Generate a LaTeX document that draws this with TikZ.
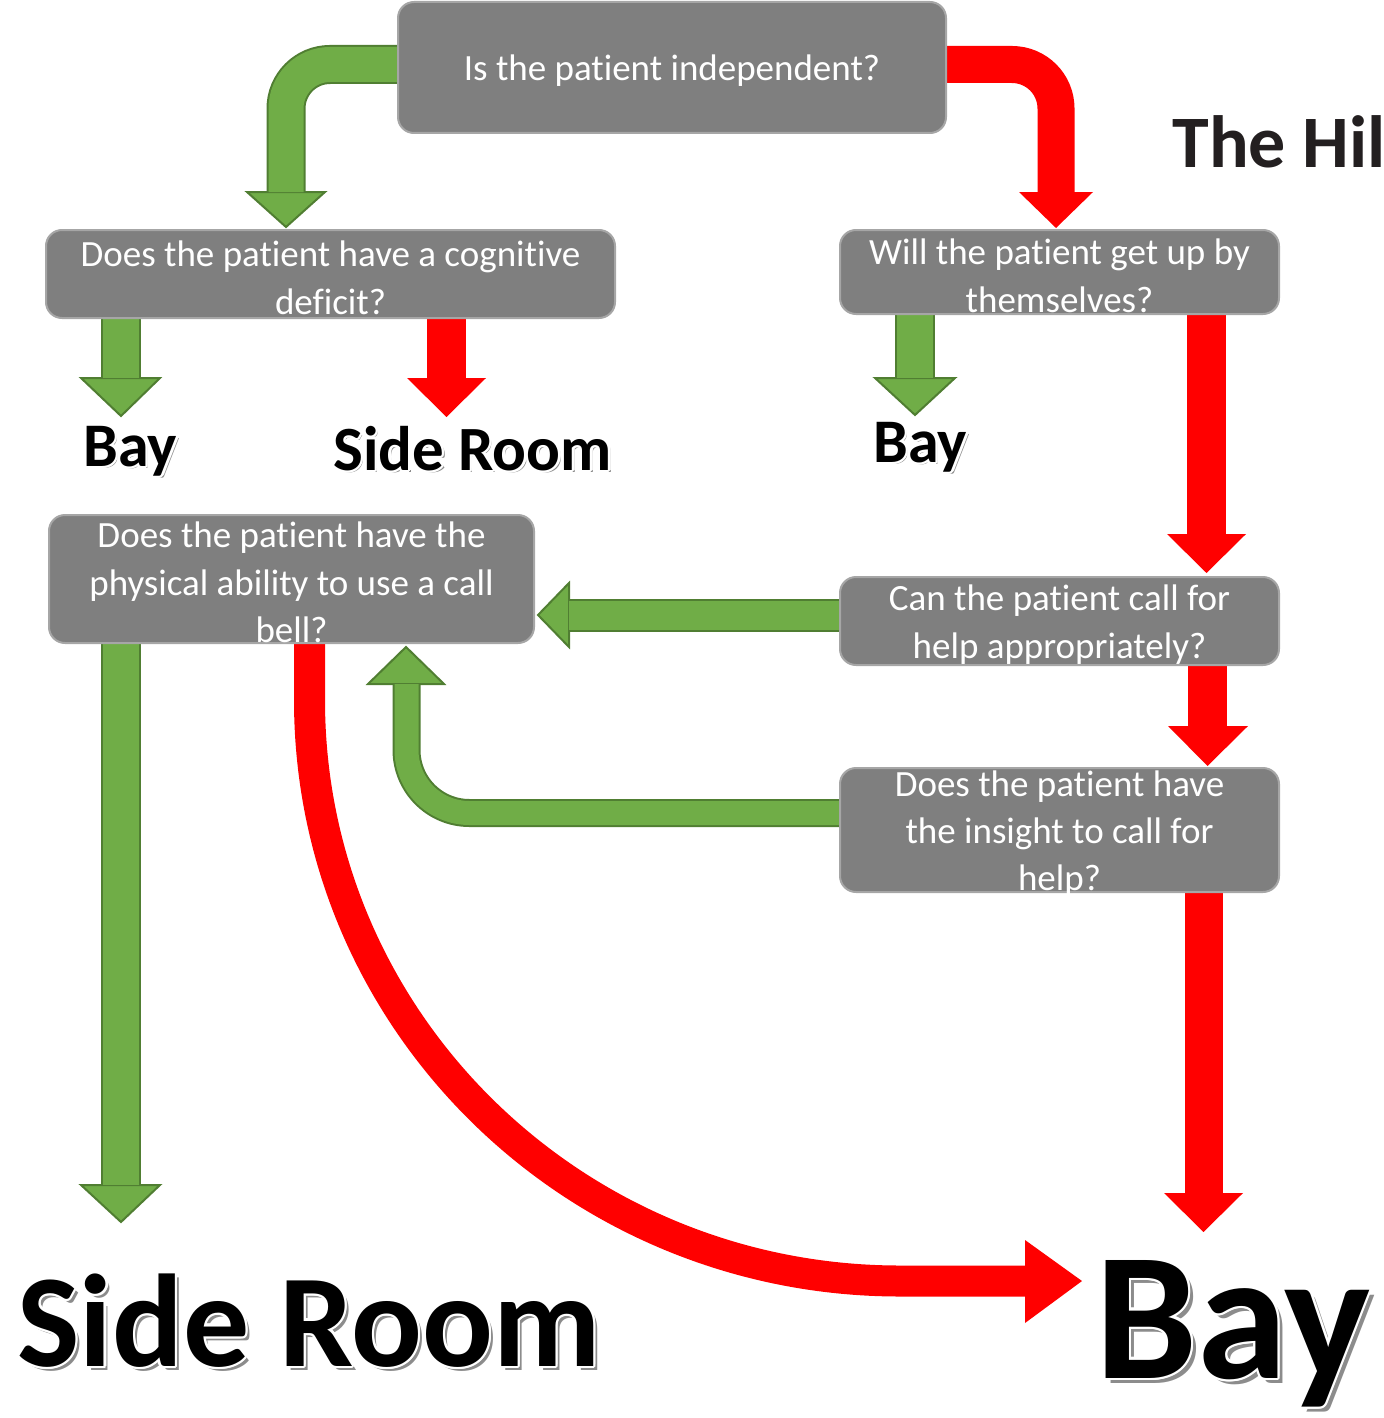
\documentclass[tikz,border=0pt]{standalone}
\usepackage{fontspec}
\setmainfont[Ligatures=NoCommon]{Carlito}
\usepackage{contour}
\contourlength{1.2pt}
\contournumber{12}
\usetikzlibrary{calc}
\definecolor{gfill}{HTML}{70AD47}
\definecolor{gdark}{HTML}{507E32}
\definecolor{boxgray}{HTML}{7F7F7F}
\definecolor{boxedge}{HTML}{A6A6A6}
\definecolor{rred}{HTML}{FF0000}
\definecolor{hilltext}{HTML}{231F20}
\definecolor{shadowgray}{HTML}{8C8C8C}
\tikzset{
  qbox/.style={draw=boxedge, line width=1pt, fill=boxgray, rounded corners=8pt, inner sep=0pt},
  qtext/.style={text=white, align=center, font=\fontsize{18.5}{23.7}\selectfont, inner sep=0pt, yshift=-1.8pt},
  redhead/.style={fill=rred, draw=none},
  greenhead/.style={fill=gfill, draw=gdark, line width=1pt, line join=miter},
}
% green block arrow: #1 shaft path, #2 outer width, #3 inner width, #4 corner radius, #5 head polygon
\newcommand\greenblock[5]{%
  \draw[gdark, line width=#2, rounded corners=#4] #1;
  \filldraw[greenhead] #5;
  \draw[gfill, line width=#3, rounded corners=#4] #1;
}
\newcommand\redblock[4]{%
  \draw[rred, line width=#2, rounded corners=#3] #1;
  \fill[redhead] #4;
}
% outcome label with shadow and white outline
\newcommand\outcome[5]{%
  \node[anchor=base west, inner sep=0pt, text=shadowgray, font=\fontsize{#3}{#3}\selectfont\bfseries] (#1s) at ($#2+(#5,#5)$) {#4};
  \node[anchor=base west, inner sep=0pt, font=\fontsize{#3}{#3}\selectfont\bfseries] (#1) at #2 {\contour{white}{#4}};
}
\begin{document}
\begin{tikzpicture}[x=0.5pt, y=-0.5pt]
\useasboundingbox (0,0) rectangle (1384,1418);

% question boxes (positions only, drawn later on top)
\path (672,67.5) coordinate (c1) (330.5,274) coordinate (c2) (1059.5,272) coordinate (c3)
      (291.5,579) coordinate (c4) (1059.5,621) coordinate (c5) (1059.5,830) coordinate (c6);

% ---- arrows ----
% top box -> cognitive deficit (green, bent)
\greenblock{(650,64.5) -- (286,64.5) -- (286,192)}{19.5pt}{17.5pt}{22pt}
  {(247,192) -- (325,192) -- (286,227) -- cycle}
% top box -> get up by themselves (red, bent)
\redblock{(700,64.5) -- (1056,64.5) -- (1056,192)}{18.5pt}{22pt}
  {(1019,192) -- (1093,192) -- (1056,228) -- cycle}
% cognitive -> Bay (green)
\greenblock{(121,300) -- (121,378)}{20pt}{18pt}{0pt}
  {(81,378) -- (160,378) -- (121,416) -- cycle}
% cognitive -> Side Room (red)
\redblock{(446.5,300) -- (446.5,378)}{19.5pt}{0pt}
  {(407,378) -- (486,378) -- (446.5,417) -- cycle}
% get up -> Bay (green)
\greenblock{(915,300) -- (915,378)}{20pt}{18pt}{0pt}
  {(875,378) -- (955,378) -- (915,415) -- cycle}
% get up -> call for help (red)
\redblock{(1206.5,300) -- (1206.5,534)}{19.5pt}{0pt}
  {(1167,534) -- (1246,534) -- (1206.5,573) -- cycle}
% call for help -> physical ability (green)
\greenblock{(870,615) -- (569,615)}{16.5pt}{14.5pt}{0pt}
  {(569,583) -- (569,647) -- (538,615) -- cycle}
% call for help -> insight (red)
\redblock{(1207.5,650) -- (1207.5,726)}{19.5pt}{0pt}
  {(1168,726) -- (1248,726) -- (1207.5,766) -- cycle}
% insight -> physical ability (green, bent up)
\greenblock{(870,813) -- (406.5,813) -- (406.5,684)}{14pt}{12pt}{31.5pt}
  {(368,684) -- (444,684) -- (406,647) -- cycle}
% insight -> Bay (red)
\redblock{(1203.5,870) -- (1203.5,1193)}{19pt}{0pt}
  {(1164,1193) -- (1243,1193) -- (1203.5,1232) -- cycle}
% physical ability -> Bay (red, curved)
\draw[rred, line width=15.5pt] (309.5,630) -- (309.5,700) .. controls (309.5,1021) and (573.6,1281) .. (900,1281) -- (1026,1281);
\fill[redhead] (1025,1240) -- (1025,1323) -- (1082,1281) -- cycle;
% physical ability -> Side Room (green)
\greenblock{(121,630) -- (121,1185)}{20pt}{18pt}{0pt}
  {(81,1185) -- (160,1185) -- (121,1222) -- cycle}

% ---- question boxes ----
\node[qbox, minimum width=274pt, minimum height=65.5pt] (q1) at (c1) {};
\node[qtext] (t1) at (q1) {Is the patient independent?};
\node[qbox, minimum width=284.5pt, minimum height=44pt] (q2) at (c2) {};
\node[qtext] (t2) at (q2) {Does the patient have a cognitive\\deficit?};
\node[qbox, minimum width=219.5pt, minimum height=42pt] (q3) at (c3) {};
\node[qtext] (t3) at (q3) {Will the patient get up by\\themselves?};
\node[qbox, minimum width=242.5pt, minimum height=64pt] (q4) at (c4) {};
\node[qtext] (t4) at (q4) {Does the patient have the\\physical ability to use a call\\bell?};
\node[qbox, minimum width=219.5pt, minimum height=44pt] (q5) at (c5) {};
\node[qtext] (t5) at (q5) {Can the patient call for\\help appropriately?};
\node[qbox, minimum width=219.5pt, minimum height=62pt] (q6) at (c6) {};
\node[qtext] (t6) at (q6) {Does the patient have\\the insight to call for\\help?};

% ---- outcomes ----
\outcome{bay1}{(83,466)}{31}{Bay}{2.5}
\outcome{side1}{(333,470)}{31.5}{Side Room}{2.5}
\outcome{bay2}{(873,462)}{31}{Bay}{2.5}
\outcome{side2}{(17,1366)}{66}{Side Room}{4}
\outcome{bay3}{(1095,1378)}{91}{Bay}{5}

% title fragment
\node[anchor=base west, inner sep=0pt, text=hilltext, font=\fontsize{37}{37}\selectfont\bfseries] (title) at (1172,168) {The Hil};
\end{tikzpicture}
\end{document}
